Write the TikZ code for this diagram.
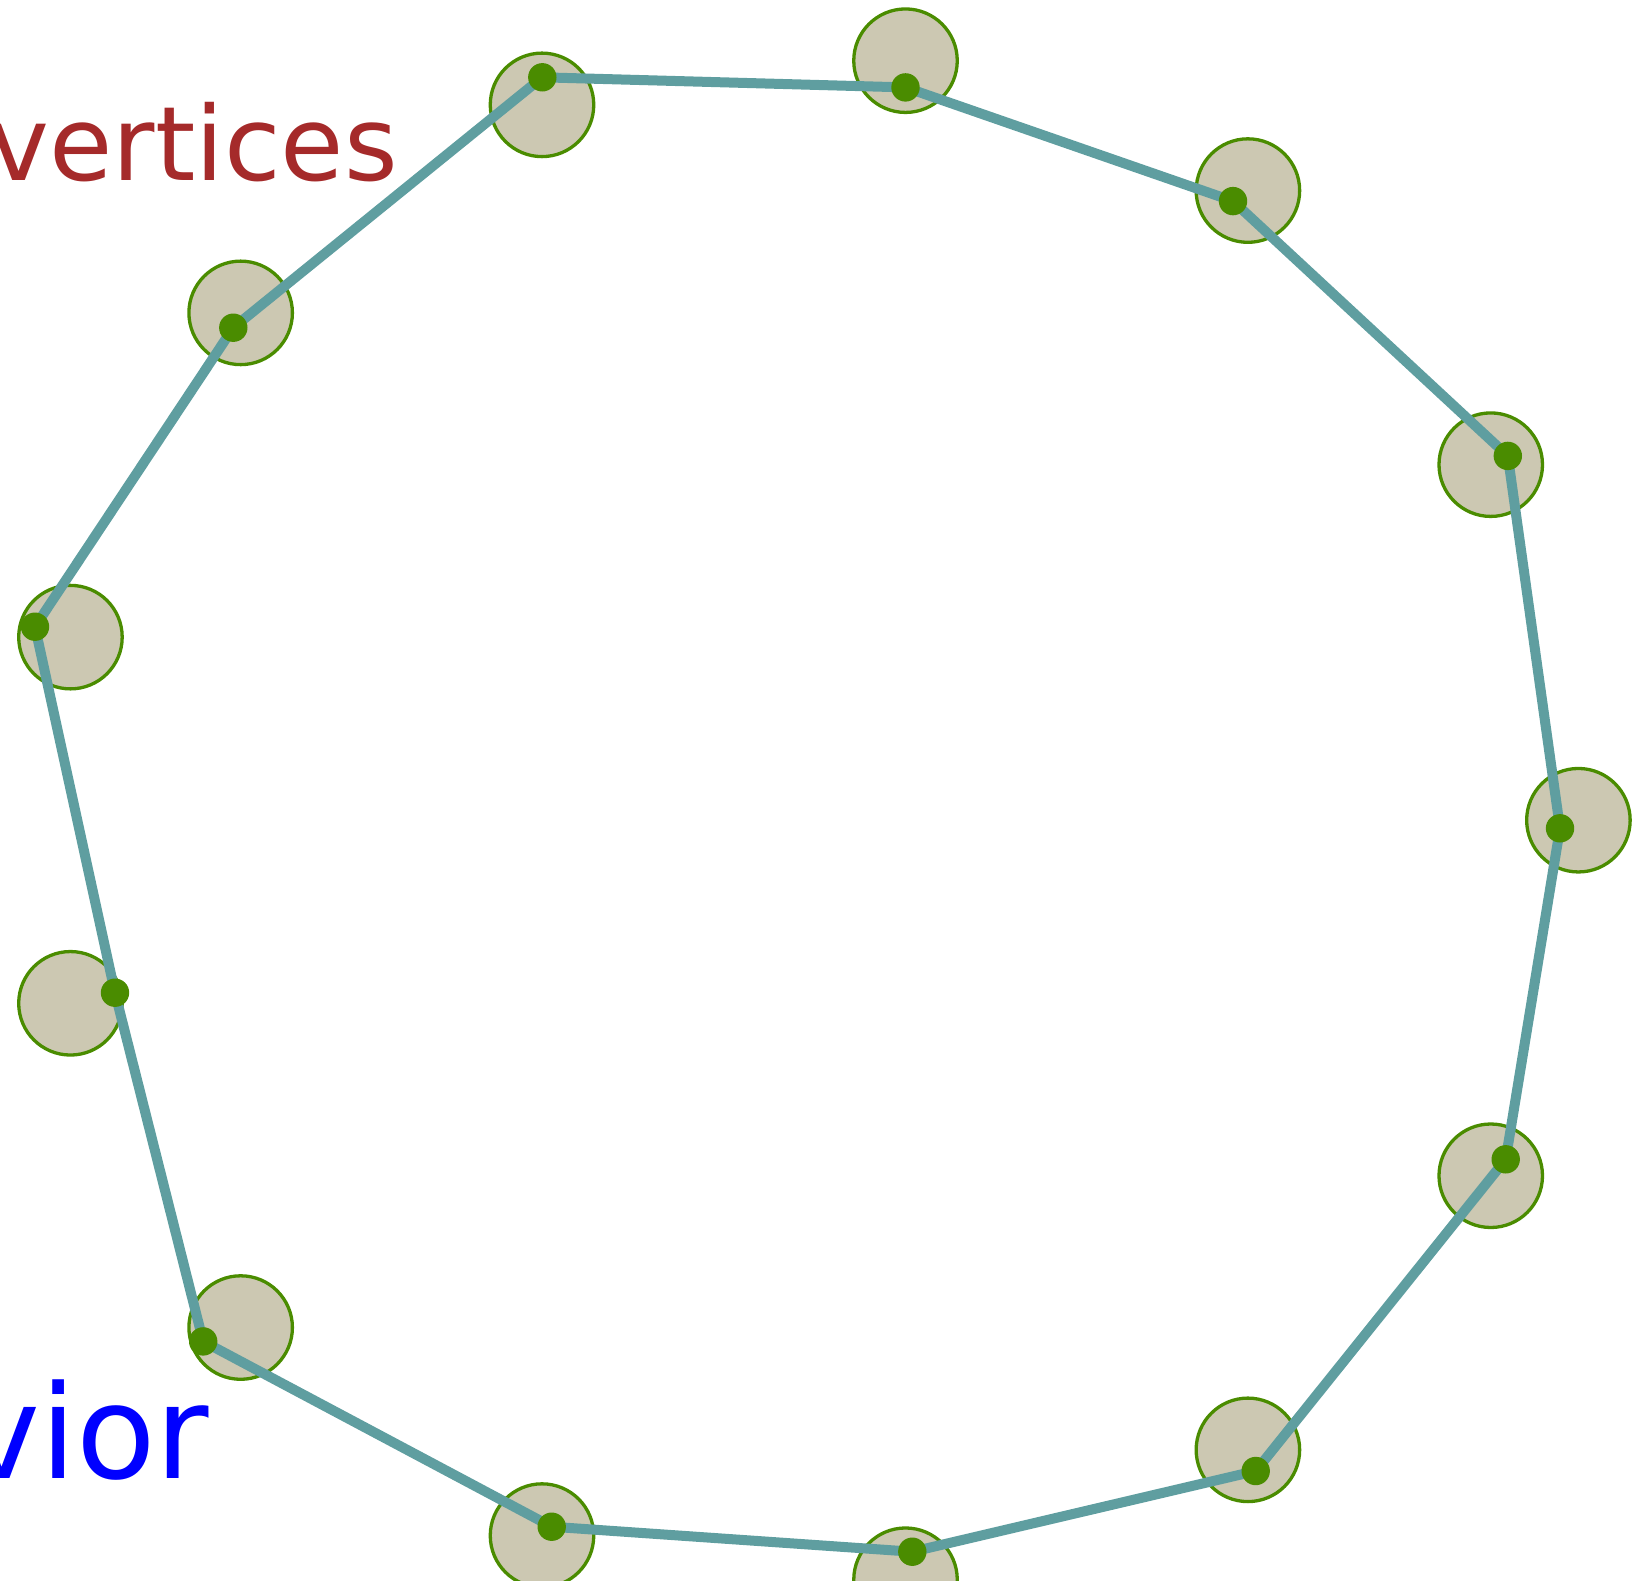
\documentclass[tikz,border=0pt]{standalone}
\usepackage{fontspec}
\setmainfont{DejaVu Sans}
\definecolor{vtan}{RGB}{204,200,178}
\definecolor{vgreen}{RGB}{74,140,0}
\definecolor{vteal}{RGB}{95,158,160}
\definecolor{vred}{RGB}{165,42,42}
\definecolor{vblue}{RGB}{0,0,255}
\begin{document}
\begin{tikzpicture}[x=1pt,y=-1pt,
  vtx/.style={circle,draw=vgreen,fill=vtan,line width=3.3pt,minimum size=103.5pt,inner sep=0pt},
  vdot/.style={circle,fill=vgreen,minimum size=28.4pt,inner sep=0pt},
  vedge/.style={draw=vteal,line width=10pt,line join=round},
  lbl/.style={anchor=base west,inner sep=0pt}]
\useasboundingbox (0,0) rectangle (1651,1580);
\foreach \k in {0,...,12}
  \node[vtx] (c\k) at ({813.3+765.1*cos(\k*360/13)},{820.2-765.1*sin(\k*360/13)}) {};
\coordinate (p0) at (1560,828.3);
\coordinate (p1) at (1507.8,455.9);
\coordinate (p2) at (1233.0,201.1);
\coordinate (p3) at (905.5,87.4);
\coordinate (p4) at (542.3,77.3);
\coordinate (p5) at (233.3,327.7);
\coordinate (p6) at (35,626.7);
\coordinate (p7) at (115,992.7);
\coordinate (p8) at (203.2,1341.4);
\coordinate (p9) at (551.7,1526.7);
\coordinate (p10) at (912.3,1551.7);
\coordinate (p11) at (1255.7,1471);
\coordinate (p12) at (1505.7,1159.3);
\draw[vedge] (p0) -- (p1) -- (p2) -- (p3) -- (p4) -- (p5) -- (p6) -- (p7) -- (p8) -- (p9) -- (p10) -- (p11) -- (p12) -- cycle;
\foreach \k in {0,...,12}
  \node[vdot] (d\k) at (p\k) {};
\node[lbl,text=vred,font=\fontsize{103}{103}\selectfont] (t1) at (-11.6,180) {vertices};
\node[lbl,text=vblue,font=\fontsize{130}{130}\selectfont] (t2) at (-37,1478.3) {vior};
\end{tikzpicture}
\end{document}
